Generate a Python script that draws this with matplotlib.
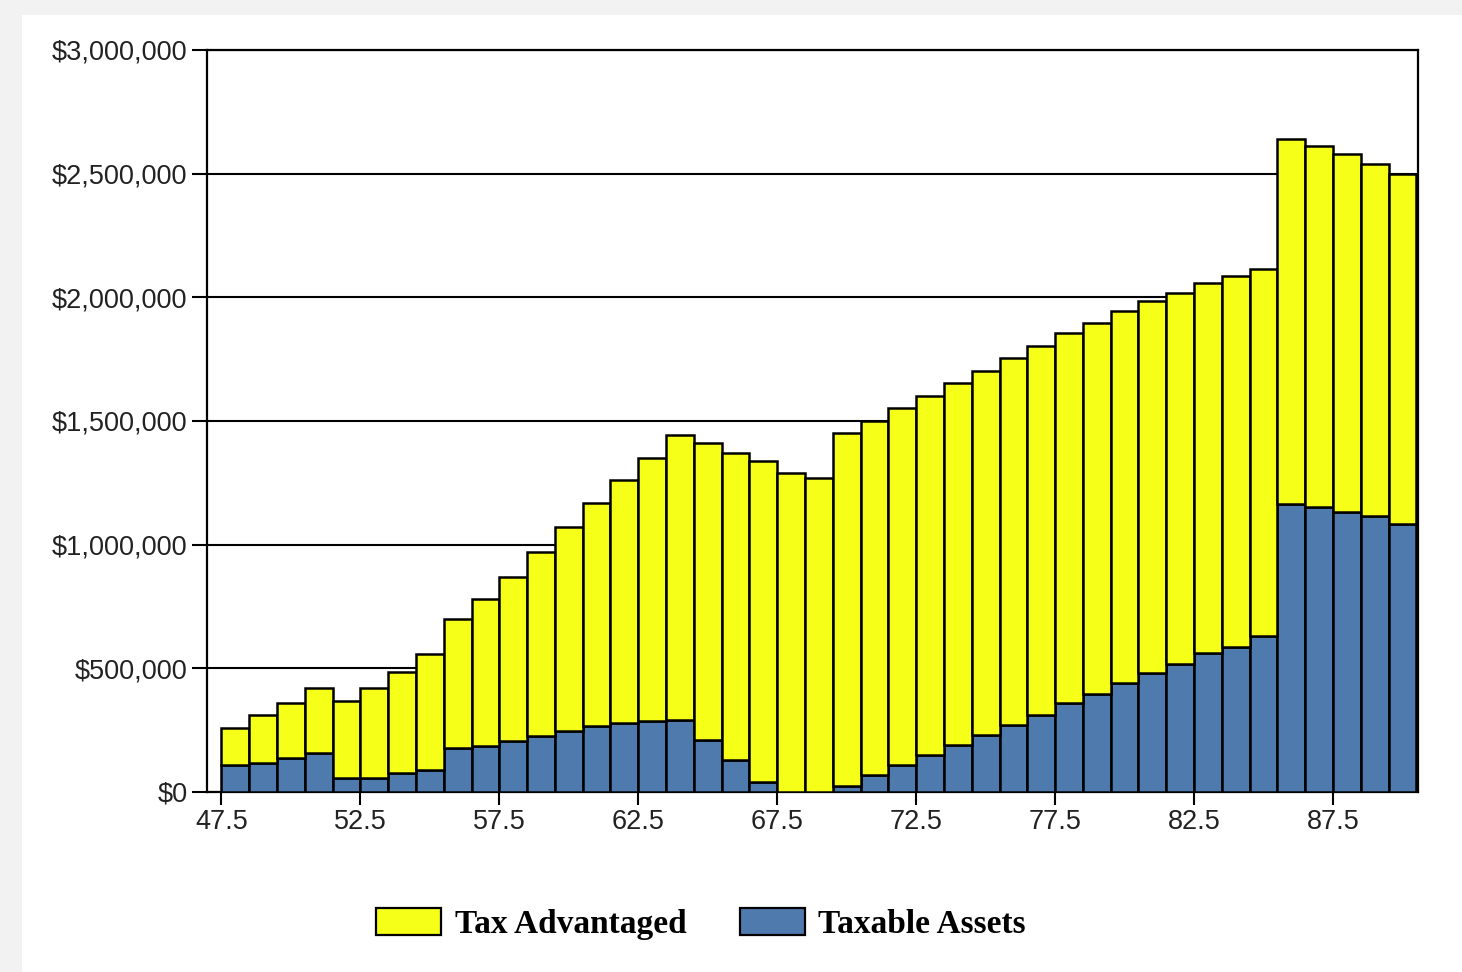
import matplotlib
matplotlib.use("Agg")
import matplotlib.pyplot as plt
import numpy as np
from matplotlib.patches import Rectangle, Patch
from matplotlib.ticker import FuncFormatter, MultipleLocator

# Portfolio balance by age, split into taxable and tax-advantaged money
ages = list(range(48, 91))

taxable = [
    109, 118, 139, 159, 58, 58, 78, 89, 179, 187,
    207, 226, 247, 267, 280, 288, 290, 210, 129, 39,
    0, 0, 26, 69, 109, 150, 190, 230, 271, 311,
    360, 398, 440, 480, 519, 561, 588, 630, 1164, 1153,
    1131, 1117, 1084,
]
tax_advantaged = [
    149, 193, 220, 260, 310, 361, 408, 469, 520, 592,
    661, 744, 823, 903, 981, 1064, 1153, 1202, 1243, 1300,
    1291, 1271, 1427, 1432, 1442, 1452, 1462, 1472, 1482, 1492,
    1494, 1497, 1504, 1507, 1497, 1497, 1499, 1486, 1477, 1457,
    1448, 1422, 1414,
]
# values above are in thousands of dollars
taxable = np.array(taxable) * 1000
tax_advantaged = np.array(tax_advantaged) * 1000

YELLOW = "#f6ff17"
BLUE = "#4e7aad"

W, H = 1462, 972
fig = plt.figure(figsize=(W / 100, H / 100), dpi=100, facecolor="#f2f2f2")
# white panel behind the chart
fig.patches.append(Rectangle((22 / W, 0), 1 - 22 / W, 1 - 15 / H,
                             transform=fig.transFigure, facecolor="white",
                             edgecolor="none", zorder=-10))

ax = fig.add_axes([207 / W, 1 - 792 / H, (1418 - 207) / W, (792 - 50) / H])
ax.set_facecolor("white")

ax.bar(ages, taxable, width=1.0, color=BLUE, edgecolor="black", linewidth=1.8,
       zorder=3)
ax.bar(ages, tax_advantaged, width=1.0, bottom=taxable, color=YELLOW,
       edgecolor="black", linewidth=1.8, zorder=3)

ax.set_xlim(46.98, 90.56)
ax.set_ylim(0, 3000000)
ax.xaxis.set_major_locator(MultipleLocator(5, offset=2.5))
ax.xaxis.set_major_formatter(FuncFormatter(lambda v, p: "%.1f" % v))
ax.yaxis.set_major_locator(MultipleLocator(500000))
ax.yaxis.set_major_formatter(FuncFormatter(lambda v, p: "${:,.0f}".format(v)))

ax.yaxis.grid(True, color="black", linewidth=1.5)
ax.set_axisbelow(True)
for s in ax.spines.values():
    s.set_linewidth(1.6)
    s.set_color("black")

ax.tick_params(axis="y", length=11, width=1.5, pad=3, labelsize=19.5,
               labelcolor="#222222")
ax.tick_params(axis="x", length=9, width=1.5, pad=3, labelsize=19.5,
               labelcolor="#222222")
for lbl in ax.get_xticklabels() + ax.get_yticklabels():
    lbl.set_family("Liberation Sans")

handles = [
    Patch(facecolor=YELLOW, edgecolor="black", linewidth=1.6, label="Tax Advantaged"),
    Patch(facecolor=BLUE, edgecolor="black", linewidth=1.6, label="Taxable Assets"),
]
fig.legend(handles=handles, loc="center", bbox_to_anchor=(701 / W, 1 - 924 / H),
           ncol=2, frameon=False, handlelength=1.95, handleheight=0.85,
           handletextpad=0.4, columnspacing=1.6,
           prop={"family": "Liberation Serif", "weight": "bold", "size": 24})

fig.savefig("out.png", dpi=100, facecolor=fig.get_facecolor())
